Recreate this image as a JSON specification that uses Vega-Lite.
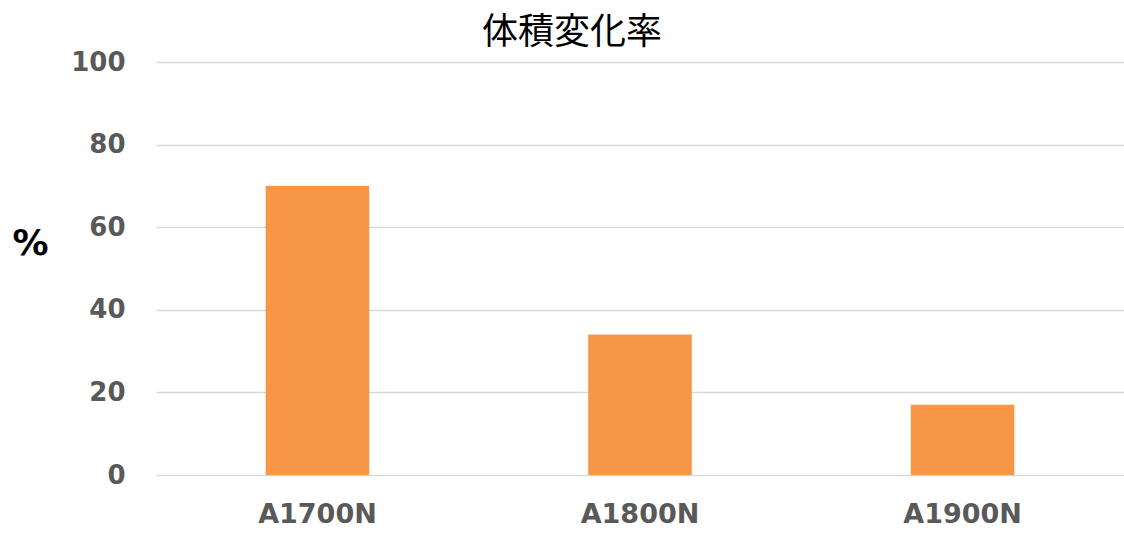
{
  "$schema": "https://vega.github.io/schema/vega-lite/v6.json",
  "width": 968,
  "height": 413,
  "autosize": "none",
  "padding": {"left": 156, "top": 62, "right": 0, "bottom": 58},
  "background": "white",
  "title": {
    "text": "体積変化率",
    "font": "Noto Sans CJK JP",
    "fontSize": 36,
    "fontWeight": "normal",
    "color": "#000000",
    "anchor": "middle",
    "dx": -68,
    "offset": -3
  },
  "data": {
    "values": [
      {"product": "A1700N", "value": 70},
      {"product": "A1800N", "value": 34},
      {"product": "A1900N", "value": 17}
    ]
  },
  "mark": {"type": "bar", "color": "#F79646"},
  "encoding": {
    "x": {
      "field": "product",
      "type": "nominal",
      "sort": null,
      "scale": {"paddingInner": 0.679, "paddingOuter": 0.34},
      "axis": {
        "title": null,
        "labelAngle": 0,
        "labelFont": "DejaVu Sans",
        "labelFontWeight": "bold",
        "labelFontSize": 27,
        "labelColor": "#595959",
        "labelPadding": 26,
        "ticks": false,
        "domain": false,
        "grid": false
      }
    },
    "y": {
      "field": "value",
      "type": "quantitative",
      "scale": {"domain": [0, 100], "nice": false},
      "axis": {
        "values": [0, 20, 40, 60, 80, 100],
        "title": "%",
        "titleAngle": 0,
        "titleX": -126,
        "titleY": 181,
        "titleAlign": "center",
        "titleBaseline": "middle",
        "titleFont": "DejaVu Sans",
        "titleFontWeight": "bold",
        "titleFontSize": 36,
        "titleColor": "#000000",
        "labelFont": "DejaVu Sans",
        "labelFontWeight": "bold",
        "labelFontSize": 26,
        "labelColor": "#595959",
        "labelPadding": 31,
        "ticks": false,
        "domain": false,
        "grid": true,
        "gridColor": "#D9D9D9",
        "gridWidth": 1.5
      }
    }
  },
  "config": {"view": {"stroke": null}}
}
